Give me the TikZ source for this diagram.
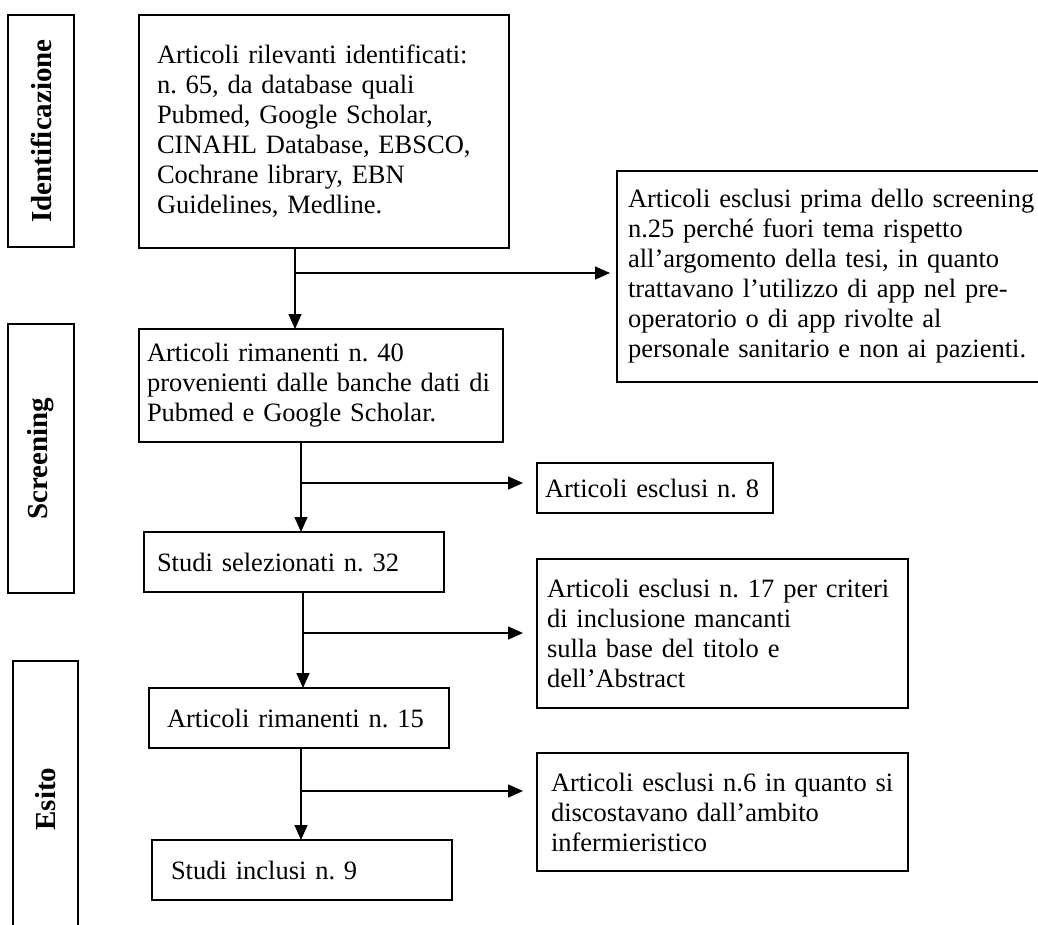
\documentclass[tikz,border=0pt]{standalone}
\usepackage{fontspec}
\setmainfont{Liberation Serif}
\usetikzlibrary{arrows.meta}
\frenchspacing
\hyphenpenalty=10000

\begin{document}
\begin{tikzpicture}[x=1pt,y=-1pt]
\tikzstyle{pbox}=[draw,line width=1.6pt,align=left,anchor=north west,inner ysep=0pt,outer sep=0pt,font=\fontsize{26.5}{30}\selectfont]
\tikzstyle{side}=[draw,line width=1.6pt,rotate=90,inner sep=0pt,outer sep=0pt,font=\fontsize{29}{32}\selectfont\bfseries]
\tikzstyle{flow}=[line width=1.5pt,-{Triangle[length=15pt,width=13pt]}]
\useasboundingbox (0,0) rectangle (1038,924);
\node[side,minimum width=232pt,minimum height=66pt] (ident) at (41,131) {Identificazione};
\node[side,minimum width=269pt,minimum height=66pt] (screen) at (41,458.5) {Screening};
\node[side,minimum width=276pt,minimum height=65pt] (esito) at (45.5,799) {Esito};
\node[pbox,text width=334pt,inner xsep=18pt,minimum height=233pt] (found) at (139,15) {Articoli rilevanti identificati:\\ n. 65, da database quali\\ Pubmed, Google Scholar,\\ CINAHL Database, EBSCO,\\ Cochrane library, EBN\\ Guidelines, Medline.};
\node[pbox,text width=412pt,inner xsep=11pt,minimum height=211pt] (excl25) at (617,171) {Articoli esclusi prima dello screening\\ n.25 perché fuori tema rispetto\\ all’argomento della tesi, in quanto\\ trattavano l’utilizzo di app nel pre-\\ operatorio o di app rivolte al\\ personale sanitario e non ai pazienti.};
\node[pbox,text width=348pt,inner xsep=8pt,minimum height=113pt] (left40) at (139,329) {Articoli rimanenti n. 40\\ provenienti dalle banche dati di\\ Pubmed e Google Scholar.};
\node[pbox,text width=220pt,inner xsep=8pt,minimum height=50pt] (excl8) at (537,463) {Articoli esclusi n. 8};
\node[pbox,text width=274pt,inner xsep=13pt,minimum height=60pt] (sel32) at (144,532) {Studi selezionati n. 32};
\node[pbox,text width=351pt,inner xsep=10pt,minimum height=149pt] (excl17) at (537,559) {Articoli esclusi n. 17 per criteri\\ di inclusione mancanti\\ sulla base del titolo e\\ dell’Abstract};
\node[pbox,text width=264pt,inner xsep=18pt,minimum height=60pt] (left15) at (149,688) {Articoli rimanenti n. 15};
\node[pbox,text width=343pt,inner xsep=14pt,minimum height=118pt] (excl6) at (537,753) {Articoli esclusi n.6 in quanto si\\ discostavano dall’ambito\\ infermieristico};
\node[pbox,text width=262pt,inner xsep=19pt,minimum height=60pt] (incl9) at (152,840) {Studi inclusi n. 9};
\coordinate (s1) at (295,273);
\draw[flow] (s1 |- found.south) -- (s1 |- left40.north);
\draw[flow,shorten >=7pt] (s1) -- (s1 -| excl25.west);
\coordinate (s2) at (301,483);
\draw[flow] (s2 |- left40.south) -- (s2 |- sel32.north);
\draw[flow,shorten >=14pt] (s2) -- (s2 -| excl8.west);
\coordinate (s3) at (303,633);
\draw[flow] (s3 |- sel32.south) -- (s3 |- left15.north);
\draw[flow,shorten >=14pt] (s3) -- (s3 -| excl17.west);
\coordinate (s4) at (301,791);
\draw[flow] (s4 |- left15.south) -- (s4 |- incl9.north);
\draw[flow,shorten >=14pt] (s4) -- (s4 -| excl6.west);
\end{tikzpicture}
\end{document}
